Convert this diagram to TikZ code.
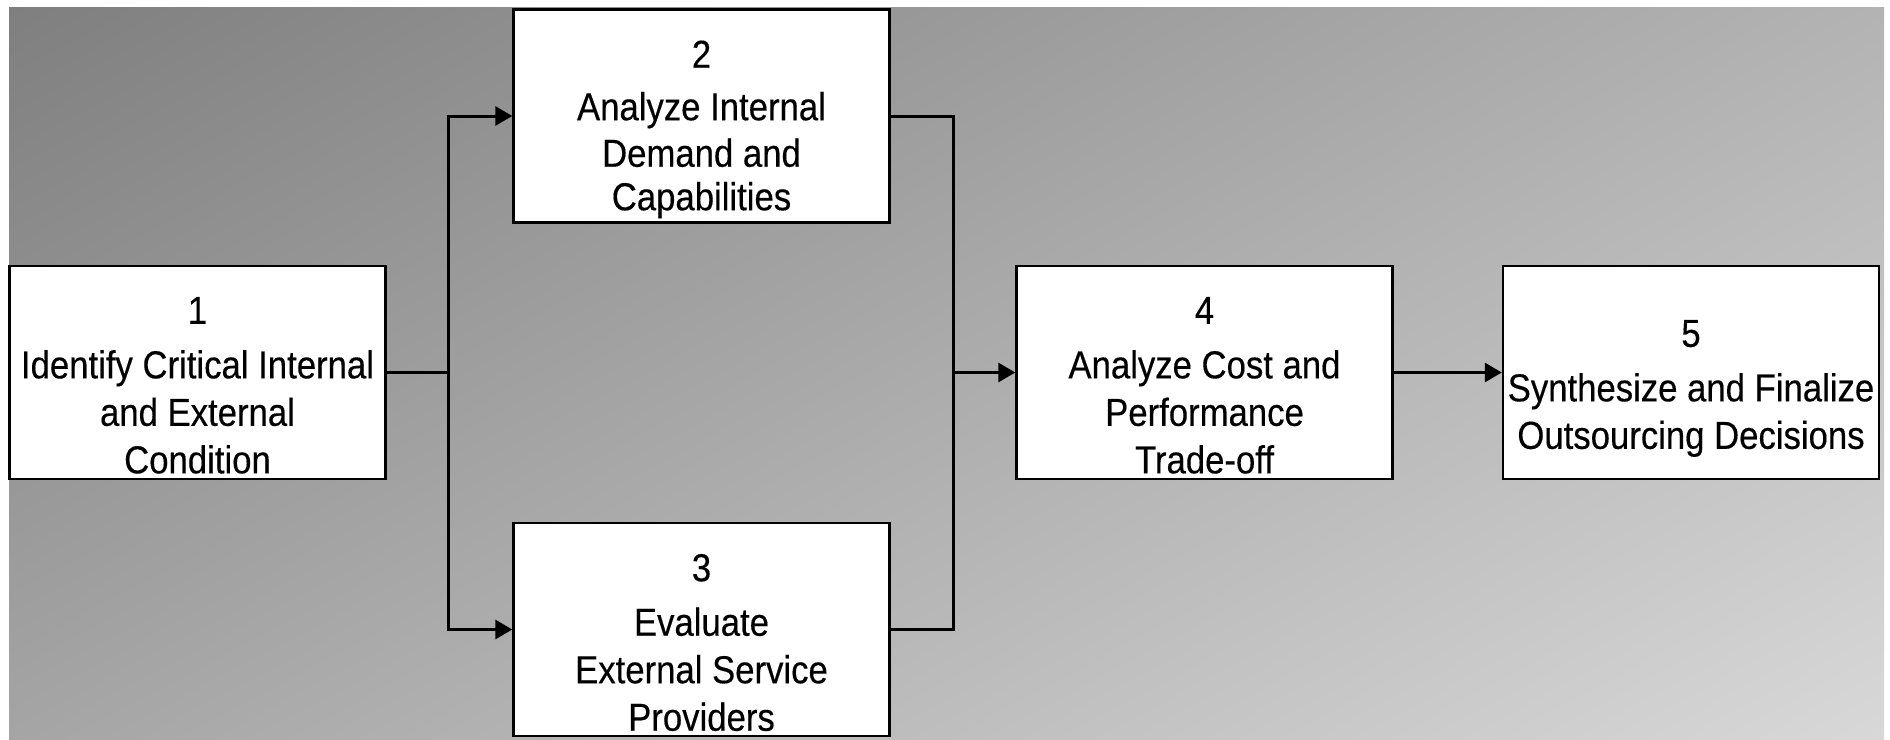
\documentclass[tikz,border=0pt]{standalone}
\usepackage{fontspec}
\setmainfont{Liberation Sans}[FakeStretch=0.89, FakeBold=0.3]
\usetikzlibrary{arrows.meta,shadings}
\definecolor{bgUL}{RGB}{127,127,127}
\definecolor{bgUR}{RGB}{179,179,179}
\definecolor{bgLL}{RGB}{165,165,165}
\definecolor{bgLR}{RGB}{216,216,216}
\tikzset{
  stepbox/.style={draw=black, line width=2.4pt, fill=white, rectangle, inner sep=0pt,
    minimum width=376pt, minimum height=213pt},
  txt/.style={align=center, inner sep=0pt, anchor=north,
    font=\fontsize{39}{47.5}\selectfont},
  conn/.style={line width=3pt, draw=black},
  arr/.style={conn, -{Triangle[length=17pt, width=19pt]}}
}
\begin{document}
\begin{tikzpicture}[x=1pt, y=-1pt]
\useasboundingbox (0,0) rectangle (1890,739);
\shade[upper left=bgUL, upper right=bgUR, lower left=bgLL, lower right=bgLR]
  (9,7) rectangle (1884,739);

\node[stepbox] (b1) at (197.5,372.5) {};
\node[stepbox] (b2) at (701.5,116) {};
\node[stepbox] (b3) at (701.5,629.5) {};
\node[stepbox] (b4) at (1204.5,372.5) {};
\node[stepbox] (b5) at (1691,372.5) {};

\node[txt] (t1) at ([yshift=-32pt]b1.north) {1\\[7pt]Identify Critical Internal\\and External\\Condition};
\node[txt] (t2) at ([yshift=-32pt]b2.north) {2\\[5pt]Analyze Internal\\[-1pt]Demand and\\[-4pt]Capabilities};
\node[txt] (t3) at ([yshift=-32pt]b3.north) {3\\[7pt]Evaluate\\External Service\\Providers};
\node[txt] (t4) at ([yshift=-32pt]b4.north) {4\\[7pt]Analyze Cost and\\Performance\\Trade-off};
\node[txt] (t5) at ([yshift=-55pt]b5.north) {5\\[7pt]Synthesize and Finalize\\Outsourcing Decisions};

\coordinate (j1) at (448,372.5);
\coordinate (j2) at (953,372.5);

\draw[conn] (b1.east) -- (j1);
\draw[arr] (j1) |- (b2.west);
\draw[arr] (j1) |- (b3.west);
\draw[conn] (b2.east) -| (j2);
\draw[conn] (b3.east) -| (j2);
\draw[arr] (j2) -- (b4.west);
\draw[arr] (b4.east) -- (b5.west);
\end{tikzpicture}
\end{document}
